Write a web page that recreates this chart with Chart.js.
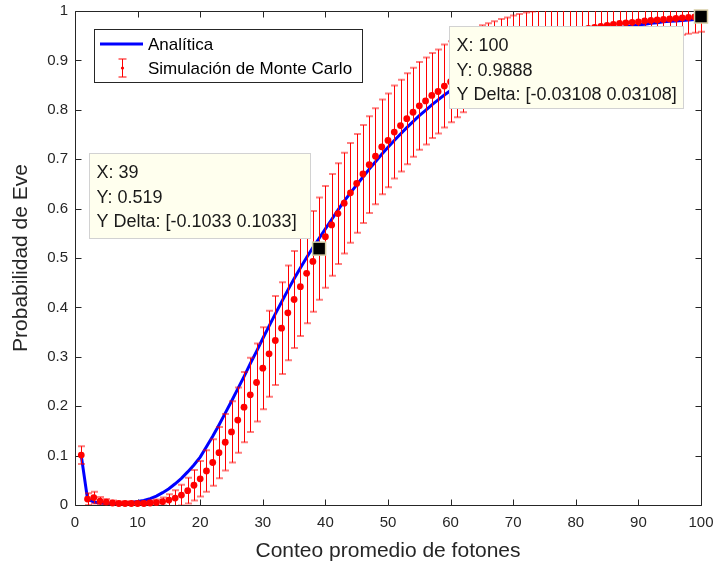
<!DOCTYPE html>
<html>
<head>
<meta charset="utf-8">
<script src="https://cdn.jsdelivr.net/npm/chart.js@4.4.1/dist/chart.umd.min.js"></script>
<style>
    html, body { margin: 0; padding: 0; background: #fff; }
    #wrap { width: 715px; height: 567px; position: relative; }
</style>
</head>
<body>
<div id="wrap"><canvas id="chart"></canvas></div>
<script>
// Mean photon count (x axis)
const photonCounts = [
    1, 2, 3, 4, 5, 6, 7, 8, 9, 10,
    11, 12, 13, 14, 15, 16, 17, 18, 19, 20,
    21, 22, 23, 24, 25, 26, 27, 28, 29, 30,
    31, 32, 33, 34, 35, 36, 37, 38, 39, 40,
    41, 42, 43, 44, 45, 46, 47, 48, 49, 50,
    51, 52, 53, 54, 55, 56, 57, 58, 59, 60,
    61, 62, 63, 64, 65, 66, 67, 68, 69, 70,
    71, 72, 73, 74, 75, 76, 77, 78, 79, 80,
    81, 82, 83, 84, 85, 86, 87, 88, 89, 90,
    91, 92, 93, 94, 95, 96, 97, 98, 99, 100
];

// Analytic probability (blue line)
const analytic = [
    0.100, 0.012, 0.006, 0.004, 0.003, 0.003, 0.003, 0.004, 0.005, 0.007,
    0.009, 0.013, 0.018, 0.025, 0.033, 0.043, 0.054, 0.067, 0.081, 0.097,
    0.118, 0.139, 0.162, 0.186, 0.210, 0.235, 0.260, 0.286, 0.311, 0.337,
    0.362, 0.387, 0.411, 0.435, 0.458, 0.480, 0.501, 0.521, 0.540, 0.559,
    0.578, 0.597, 0.615, 0.632, 0.648, 0.664, 0.680, 0.695, 0.710, 0.724,
    0.738, 0.751, 0.764, 0.776, 0.788, 0.799, 0.810, 0.820, 0.830, 0.839,
    0.848, 0.856, 0.864, 0.872, 0.879, 0.886, 0.892, 0.898, 0.904, 0.909,
    0.914, 0.919, 0.924, 0.928, 0.932, 0.936, 0.940, 0.943, 0.946, 0.949,
    0.952, 0.955, 0.957, 0.960, 0.962, 0.964, 0.966, 0.968, 0.970, 0.972,
    0.973, 0.975, 0.976, 0.978, 0.979, 0.980, 0.981, 0.982, 0.983, 0.984
];

// Monte Carlo mean (red dots)
const monteCarlo = [
    0.101, 0.012, 0.015, 0.008, 0.006, 0.004, 0.003, 0.003, 0.003, 0.003,
    0.003, 0.004, 0.005, 0.007, 0.010, 0.014, 0.020, 0.029, 0.040, 0.053,
    0.069, 0.086, 0.106, 0.127, 0.148, 0.172, 0.198, 0.223, 0.248, 0.277,
    0.306, 0.333, 0.358, 0.389, 0.416, 0.442, 0.469, 0.493, 0.519, 0.543,
    0.567, 0.590, 0.611, 0.632, 0.651, 0.670, 0.689, 0.706, 0.725, 0.738,
    0.755, 0.768, 0.782, 0.795, 0.808, 0.818, 0.829, 0.837, 0.848, 0.857,
    0.866, 0.874, 0.882, 0.889, 0.896, 0.902, 0.908, 0.914, 0.919, 0.924,
    0.929, 0.933, 0.937, 0.941, 0.945, 0.948, 0.951, 0.954, 0.957, 0.960,
    0.962, 0.965, 0.967, 0.969, 0.971, 0.973, 0.975, 0.976, 0.977, 0.978,
    0.980, 0.981, 0.982, 0.983, 0.984, 0.985, 0.986, 0.987, 0.988, 0.9888
];

// Monte Carlo half error (error bars)
const mcError = [
    0.018, 0.012, 0.012, 0.008, 0.006, 0.005, 0.004, 0.004, 0.004, 0.004,
    0.004, 0.005, 0.006, 0.008, 0.012, 0.016, 0.021, 0.026, 0.031, 0.036,
    0.042, 0.047, 0.052, 0.057, 0.062, 0.066, 0.071, 0.075, 0.079, 0.083,
    0.087, 0.090, 0.093, 0.096, 0.098, 0.100, 0.101, 0.102, 0.1033, 0.103,
    0.103, 0.102, 0.102, 0.101, 0.100, 0.099, 0.098, 0.097, 0.096, 0.095,
    0.094, 0.093, 0.092, 0.090, 0.089, 0.088, 0.086, 0.085, 0.084, 0.082,
    0.081, 0.079, 0.078, 0.076, 0.075, 0.073, 0.071, 0.070, 0.068, 0.067,
    0.065, 0.064, 0.062, 0.061, 0.059, 0.058, 0.057, 0.055, 0.054, 0.053,
    0.052, 0.050, 0.049, 0.048, 0.047, 0.046, 0.045, 0.044, 0.043, 0.042,
    0.041, 0.040, 0.039, 0.038, 0.036, 0.035, 0.034, 0.033, 0.032, 0.031
];

const xTicks = [0, 10, 20, 30, 40, 50, 60, 70, 80, 90, 100];
const yTicks = [0, 0.1, 0.2, 0.3, 0.4, 0.5, 0.6, 0.7, 0.8, 0.9, 1];
const yTickLabels = ['0', '0.1', '0.2', '0.3', '0.4', '0.5', '0.6', '0.7', '0.8', '0.9', '1'];

// Data tips shown on the figure
const tipX = [39, 100];
const tipY = [0.519, 0.9888];
const tipDelta = ['0.1033', '0.03108'];

const seriesNames = ['Analítica', 'Simulación de Monte Carlo'];

const FONT = '"Liberation Sans", Arial, sans-serif';
const AXIS = '#262626';

const errorBars = {
    id: 'errorBars',
    beforeDatasetDraw(chart, args) {
        if (args.index !== 1) return;
        const { ctx, chartArea: a, scales: { x, y } } = chart;
        ctx.save();
        ctx.beginPath();
        ctx.rect(0, a.top, chart.width, a.bottom - a.top);
        ctx.clip();
        for (let i = 0; i < photonCounts.length; i++) {
            const px = Math.round(x.getPixelForValue(photonCounts[i])) + 0.5;
            const top = y.getPixelForValue(monteCarlo[i] + mcError[i]);
            const bot = y.getPixelForValue(monteCarlo[i] - mcError[i]);
            ctx.strokeStyle = '#ff0000';
            ctx.lineWidth = 1;
            ctx.beginPath();
            ctx.moveTo(px, top);
            ctx.lineTo(px, bot);
            ctx.stroke();
            ctx.strokeStyle = 'rgba(255,0,0,0.5)';
            ctx.lineWidth = 2;
            ctx.beginPath();
            ctx.moveTo(px - 3.5, top); ctx.lineTo(px + 3.5, top);
            ctx.moveTo(px - 3.5, bot); ctx.lineTo(px + 3.5, bot);
            ctx.stroke();
        }
        ctx.restore();
    }
};

const decorations = {
    id: 'decorations',
    beforeDatasetsDraw(chart) {
        // axes box and inward ticks
        const { ctx, chartArea: a, scales: { x, y } } = chart;
        ctx.save();
        ctx.strokeStyle = AXIS;
        ctx.lineWidth = 1;
        const L = Math.round(a.left) + 0.5, R = Math.round(a.right) + 0.5;
        const T = Math.round(a.top) + 0.5, B = Math.round(a.bottom) + 0.5;
        ctx.beginPath();
        ctx.rect(L, T, R - L, B - T);
        for (const v of xTicks) {
            const px = Math.round(x.getPixelForValue(v)) + 0.5;
            ctx.moveTo(px, B); ctx.lineTo(px, B - 6);
            ctx.moveTo(px, T); ctx.lineTo(px, T + 6);
        }
        for (const v of yTicks) {
            const py = Math.round(y.getPixelForValue(v)) + 0.5;
            ctx.moveTo(L, py); ctx.lineTo(L + 6, py);
            ctx.moveTo(R, py); ctx.lineTo(R - 6, py);
        }
        ctx.stroke();
        ctx.restore();
    },
    afterDraw(chart) {
        const { ctx, scales: { x, y } } = chart;
        ctx.save();

        // legend
        ctx.fillStyle = '#ffffff';
        ctx.fillRect(94.5, 29.5, 268, 53);
        ctx.strokeStyle = AXIS;
        ctx.lineWidth = 1;
        ctx.strokeRect(94.5, 29.5, 268, 53);
        ctx.strokeStyle = '#0000ff';
        ctx.lineWidth = 3;
        ctx.beginPath();
        ctx.moveTo(100, 44); ctx.lineTo(143, 44);
        ctx.stroke();
        ctx.strokeStyle = '#ff0000';
        ctx.lineWidth = 1;
        ctx.beginPath();
        ctx.moveTo(122.5, 59); ctx.lineTo(122.5, 77);
        ctx.stroke();
        ctx.strokeStyle = 'rgba(255,0,0,0.5)';
        ctx.lineWidth = 2;
        ctx.beginPath();
        ctx.moveTo(118.5, 59); ctx.lineTo(126.5, 59);
        ctx.moveTo(118.5, 77); ctx.lineTo(126.5, 77);
        ctx.stroke();
        ctx.fillStyle = '#ff0000';
        ctx.beginPath();
        ctx.arc(122.5, 68, 1.6, 0, Math.PI * 2);
        ctx.fill();
        ctx.fillStyle = '#000000';
        ctx.font = '17px ' + FONT;
        ctx.textBaseline = 'middle';
        ctx.textAlign = 'left';
        ctx.fillText(seriesNames[0], 148, 45);
        ctx.fillText(seriesNames[1], 148, 69);

        // data tips
        const boxes = [
            { x: 89.5, y: 153.5, w: 221, h: 85 },
            { x: 449.5, y: 26.5, w: 234, h: 82 }
        ];
        for (let i = 0; i < tipX.length; i++) {
            const b = boxes[i];
            ctx.fillStyle = 'rgb(255,255,238)';
            ctx.fillRect(b.x, b.y, b.w, b.h);
            ctx.strokeStyle = '#d2d2d2';
            ctx.lineWidth = 1;
            ctx.strokeRect(b.x, b.y, b.w, b.h);
            ctx.fillStyle = '#1a1a1a';
            ctx.font = '18px ' + FONT;
            const lines = ['X: ' + tipX[i], 'Y: ' + tipY[i], 'Y Delta: [-' + tipDelta[i] + ' ' + tipDelta[i] + ']'];
            lines.forEach((t, k) => ctx.fillText(t, b.x + 7, b.y + 20 + k * 24.3));

            const px = x.getPixelForValue(tipX[i]);
            const py = y.getPixelForValue(tipY[i]);
            ctx.fillStyle = '#000000';
            ctx.fillRect(px - 6.5, py - 6.5, 13, 13);
            ctx.strokeStyle = 'rgb(215,205,165)';
            ctx.lineWidth = 1.5;
            ctx.strokeRect(px - 6.5, py - 6.5, 13, 13);
        }
        ctx.restore();
    }
};

new Chart(document.getElementById('chart'), {
    type: 'line',
    data: {
        datasets: [
            {
                label: seriesNames[0],
                data: photonCounts.map((v, i) => ({ x: v, y: analytic[i] })),
                borderColor: '#0000ff',
                borderWidth: 3,
                pointRadius: 0,
                tension: 0,
                fill: false,
                clip: false,
                order: 2
            },
            {
                label: seriesNames[1],
                data: photonCounts.map((v, i) => ({ x: v, y: monteCarlo[i] })),
                showLine: false,
                pointRadius: 3.4,
                pointBackgroundColor: '#ff0000',
                pointBorderColor: '#ff0000',
                pointBorderWidth: 0,
                clip: false,
                order: 1
            }
        ]
    },
    options: {
        responsive: true,
        maintainAspectRatio: false,
        animation: false,
        events: [],
        layout: { padding: { top: 11, right: 14, left: 0, bottom: 0 } },
        plugins: { legend: { display: false }, tooltip: { enabled: false } },
        scales: {
            x: {
                type: 'linear',
                min: 0, max: 100,
                afterBuildTicks: s => { s.ticks = xTicks.map(v => ({ value: v })); },
                afterFit: s => { s.height = 62; s.paddingLeft = 0; s.paddingRight = 0; },
                grid: { display: false, drawTicks: false },
                border: { display: false },
                ticks: { color: AXIS, font: { family: FONT, size: 15 }, padding: 9, maxRotation: 0 },
                title: {
                    display: true,
                    text: 'Conteo promedio de fotones',
                    color: AXIS,
                    font: { family: FONT, size: 21 },
                    padding: { top: 0, bottom: 3 }
                }
            },
            y: {
                type: 'linear',
                min: 0, max: 1,
                afterBuildTicks: s => { s.ticks = yTicks.map(v => ({ value: v })); },
                afterFit: s => { s.width = 75; s.paddingTop = 0; s.paddingBottom = 0; },
                grid: { display: false, drawTicks: false },
                border: { display: false },
                ticks: {
                    color: AXIS,
                    font: { family: FONT, size: 15 },
                    padding: 7,
                    callback: (v, i) => yTickLabels[i]
                },
                title: {
                    display: true,
                    text: 'Probabilidad de Eve',
                    color: AXIS,
                    font: { family: FONT, size: 21 },
                    padding: { top: 9, bottom: 0 }
                }
            }
        }
    },
    plugins: [errorBars, decorations]
});
</script>
</body>
</html>
